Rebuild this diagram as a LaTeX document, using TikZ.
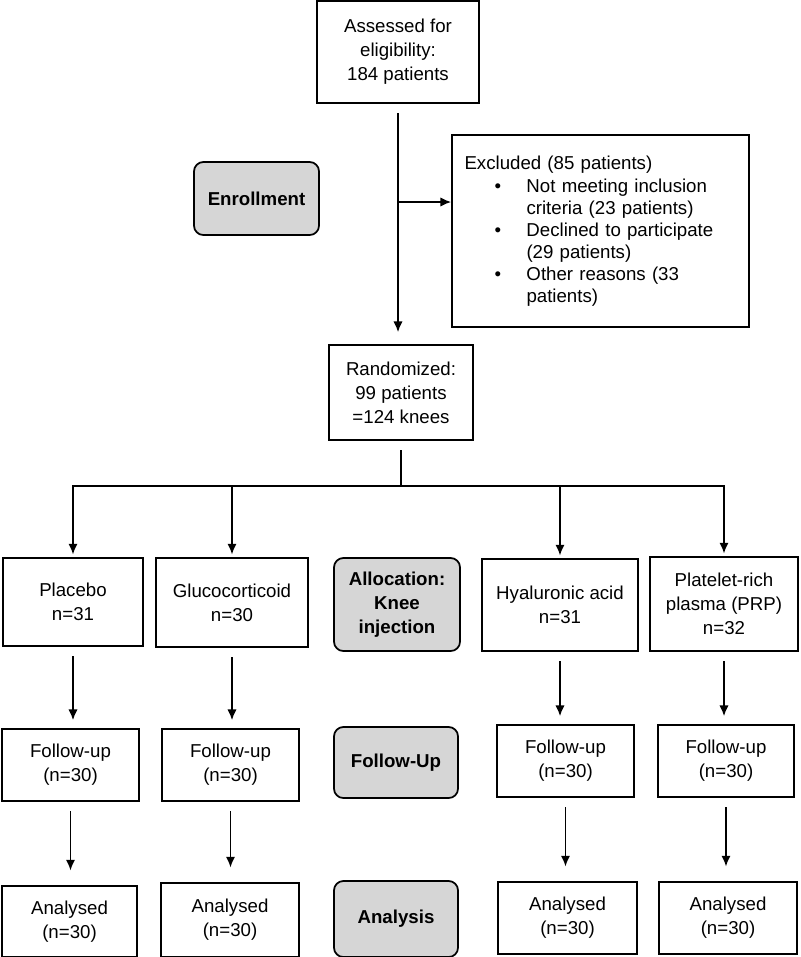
\documentclass[tikz,border=0pt]{standalone}
\usepackage{fontspec}
\setmainfont{Liberation Sans}
\usetikzlibrary{arrows.meta}
\tikzset{
  box/.style={draw, line width=1.3pt, align=center, inner sep=2pt, font=\fontsize{14}{18}\selectfont},
  stage/.style={box, rounded corners=7pt, fill=black!16, font=\fontsize{14}{18}\selectfont\bfseries},
  link/.style={line width=1.3pt},
  arr/.style={link, -{Latex[length=8pt,width=7pt]}, shorten <=7pt, shorten >=6pt},
}

\begin{document}
\begin{tikzpicture}[x=0.75pt, y=-0.75pt]
      \useasboundingbox (0,0) rectangle (800,957);
      \node[box, minimum width=121.5pt, minimum height=76.5pt] (assess) at (398,52) {Assessed for\\eligibility:\\184 patients};
      \node[stage, minimum width=93.75pt, minimum height=54.75pt] (enroll) at (256.5,198.5) {Enrollment};
      \node[box, align=left, text width=204pt, inner xsep=9pt, minimum width=222.75pt, minimum height=144pt,
        font=\fontsize{14}{16.5}\selectfont] (excl) at (600.5,231)
        {Excluded (85 patients)\\[1pt]
         \hspace*{22.5pt}\makebox[24pt][l]{\textbullet}Not meeting inclusion\\
         \hspace*{46.5pt}criteria (23 patients)\\
         \hspace*{22.5pt}\makebox[24pt][l]{\textbullet}Declined to participate\\
         \hspace*{46.5pt}(29 patients)\\
         \hspace*{22.5pt}\makebox[24pt][l]{\textbullet}Other reasons (33\\
         \hspace*{46.5pt}patients)};
      \node[box, minimum width=108pt, minimum height=71.25pt] (rand) at (401,392.5) {Randomized:\\99 patients\\=124 knees};

      \node[box, minimum width=105pt, minimum height=66pt] (plac) at (73,602) {Placebo\\n=31};
      \node[box, minimum width=114pt, minimum height=66.75pt] (gluc) at (232,602.5) {Glucocorticoid\\n=30};
      \node[stage, minimum width=94.5pt, minimum height=69.75pt] (alloc) at (397,604.5) {Allocation:\\Knee\\injection};
      \node[box, minimum width=117pt, minimum height=69pt] (hyal) at (560,605) {Hyaluronic acid\\n=31};
      \node[box, minimum width=111pt, minimum height=70.5pt] (prp) at (724,604) {Platelet-rich\\plasma (PRP)\\n=32};

      \node[box, minimum width=102.75pt, minimum height=54pt] (placfu) at (70.5,765) {Follow-up\\(n=30)};
      \node[box, minimum width=102.75pt, minimum height=54pt] (glucfu) at (230.5,765) {Follow-up\\(n=30)};
      \node[stage, minimum width=93pt, minimum height=53.25pt] (followup) at (396,762.5) {Follow-Up};
      \node[box, minimum width=102.75pt, minimum height=54pt] (hyalfu) at (565.5,761) {Follow-up\\(n=30)};
      \node[box, minimum width=102pt, minimum height=54pt] (prpfu) at (726,761) {Follow-up\\(n=30)};

      \node[box, minimum width=101.25pt, minimum height=53.25pt] (placan) at (69.5,921.5) {Analysed\\(n=30)};
      \node[box, minimum width=103.5pt, minimum height=55.5pt] (glucan) at (230,920) {Analysed\\(n=30)};
      \node[stage, minimum width=93pt, minimum height=57pt] (analysis) at (396,919) {Analysis};
      \node[box, minimum width=104.25pt, minimum height=54pt] (hyalan) at (567.5,918) {Analysed\\(n=30)};
      \node[box, minimum width=103.5pt, minimum height=54pt] (prpan) at (728,918) {Analysed\\(n=30)};

      \coordinate (branch) at (399,202);
      \coordinate (split) at (401,486);
      \begin{scope}
        \draw[arr, shorten >=9pt] (assess.south) -- (assess.south |- rand.north);
        \draw[arr, shorten <=0pt, shorten >=0pt] (branch) -- (branch -| excl.west);
        \draw[link, shorten <=7pt] (rand.south) -- (split);
        \draw[link, line cap=rect] (plac |- split) -- (prp |- split);
        \foreach \n in {plac,gluc,hyal,prp}
          \draw[arr, shorten <=0pt, shorten >=2pt] (\n |- split) -- (\n.north);
        \draw[arr] (plac.south) -- (plac.south |- placfu.north);
        \draw[arr] (gluc.south) -- (gluc.south |- glucfu.north);
        \draw[arr] (hyal.south) -- (hyal.south |- hyalfu.north);
        \draw[arr] (prp.south) -- (prp.south |- prpfu.north);
        \draw[arr, shorten >=11pt] (placfu.south) -- (placfu.south |- placan.north);
        \draw[arr, shorten >=11pt] (glucfu.south) -- (glucfu.south |- glucan.north);
        \draw[arr, shorten >=11pt] (hyalfu.south) -- (hyalfu.south |- hyalan.north);
        \draw[arr, shorten >=11pt] (prpfu.south) -- (prpfu.south |- prpan.north);
      \end{scope}
    \end{tikzpicture}
\end{document}
